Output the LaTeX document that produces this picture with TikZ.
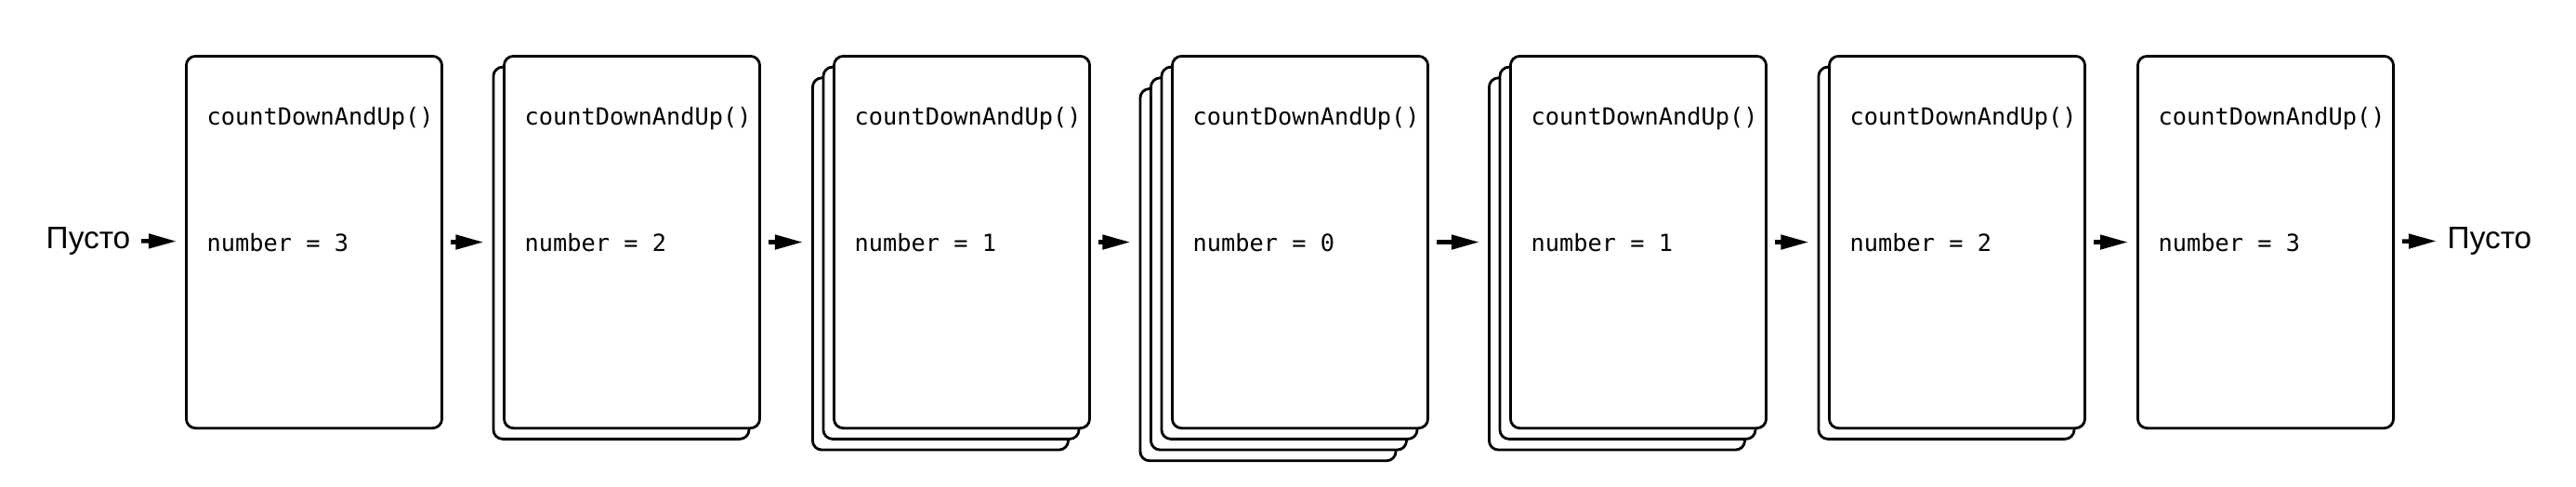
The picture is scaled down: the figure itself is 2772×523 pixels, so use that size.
\documentclass[tikz,border=0pt]{standalone}
\usepackage{fontspec}
\setmonofont{DejaVu Sans Mono}
\setsansfont{Liberation Sans}
\usepackage{tikz}
\usetikzlibrary{arrows.meta, positioning, calc}

\tikzset{
  card/.style={draw, fill=white, line width=0.8pt, rounded corners=0.1cm, minimum width=2.75cm, minimum height=4cm, anchor=north west, inner sep=0},
  code/.style={font=\ttfamily\fontsize{7.2}{8}\selectfont, anchor=base west, inner sep=0},
  voidtext/.style={font=\sffamily\fontsize{9.5}{11}\selectfont, inner sep=0},
  flow/.style={line width=1.3pt, shorten <=0.08cm, shorten >=0.09cm, -{Triangle[length=0.3cm, width=0.15cm]}}
}

\begin{document}
\begin{tikzpicture}[x=0.01cm, y=-0.01cm]
  \useasboundingbox (0,0) rectangle (2772,523);
  % stacks of frames, back layers first
  \foreach \x/\n/\k [count=\i] in {199/3/1, 541/2/2, 896/1/3, 1260/0/4, 1624/1/3, 1967/2/2, 2299/3/1} {
    \foreach \j in {\k,...,1}
      \node[card] (c\i-\j) at ({\x-(\j-1)*11.5}, {59+(\j-1)*11.7}) {};
    \node[code] (f\i) at ($(c\i-1.north west)+(23,75)$) {countDownAndUp()};
    \node[code] (v\i) at ($(c\i-1.north west)+(23,211)$) {number = \n};
  }
  \node[voidtext, anchor=east] (in) at (141,259) {Пусто};
  \node[voidtext, anchor=west] (out) at (2633,259) {Пусто};
  % connectors
  \draw[flow, shorten <=0.11cm] (in) -- (c1-1);
  \foreach \p/\q in {1-1/2-2, 2-1/3-3, 3-1/4-4, 4-1/5-3, 5-1/6-2, 6-1/7-1}
    \draw[flow] (c\p.east) -- (c\p.east -| c\q.west);
  \draw[flow, shorten >=0.11cm] (c7-1) -- (out);
\end{tikzpicture}
\end{document}
